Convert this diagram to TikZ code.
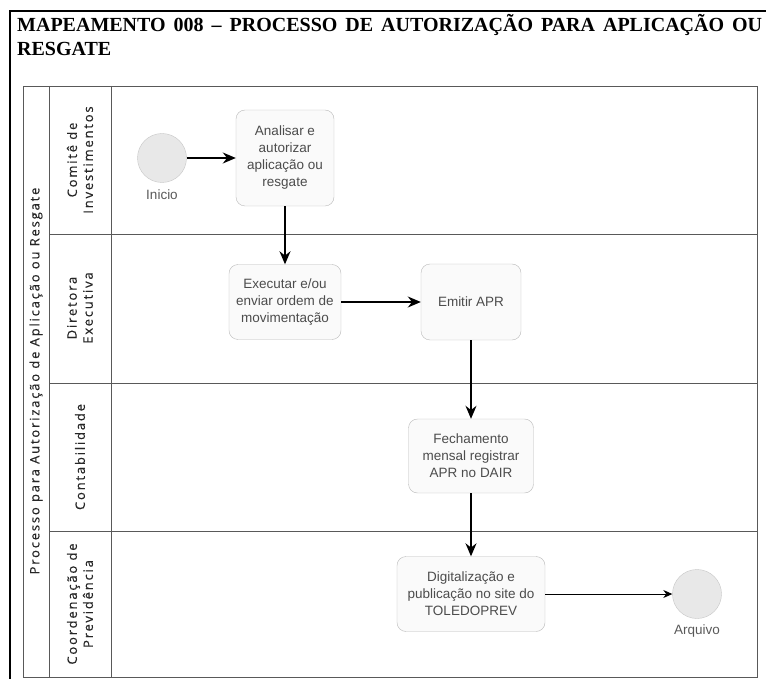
\documentclass[tikz,border=0pt]{standalone}
\usepackage{fontspec}
\setmainfont{Liberation Serif}
\setsansfont{Liberation Sans}
\newfontfamily\lanefont{Open Sans}[LetterSpace=14, FakeBold=0.4]
\usepackage{tikz}
\usetikzlibrary{positioning, arrows, arrows.meta}
\tikzset{
    >={Stealth[length=13pt, width=11pt]}, % arrow heads like the flow chart
    x=1pt, y=-1pt, % one unit is one pixel of the scan
    lane/.style={draw=gray!70!black, line width=0.8pt}, % pool and lane borders
    lanetext/.style={rotate=90, align=center, text=black!85, font=\lanefont\fontsize{13}{16}\selectfont}, % lane names
    task/.style={draw=gray!55, rounded corners=9pt, fill=gray!4, align=center, text=black!70,
        font=\sffamily\fontsize{13.5}{17}\selectfont, inner sep=2pt}, % activity boxes
    event/.style={circle, draw=gray!45, fill=gray!18, minimum size=49pt, inner sep=0pt}, % start and end
    eventtext/.style={text=black!65, font=\sffamily\fontsize{13.5}{15}\selectfont}, % text under events
    flow/.style={->, line width=1.6pt}, % main sequence flow
    thinflow/.style={-{Stealth[length=9pt, width=8pt]}, line width=0.7pt}, % thin sequence flow
}
\begin{document}
\begin{tikzpicture}
    \useasboundingbox (0,0) rectangle (766,679);
    % page frame and heading
    \draw[line width=1.6pt] (10,679) -- (10,11) -- (766,11);
    \node[anchor=base west, inner sep=0pt, font=\bfseries\fontsize{20}{24}\selectfont] (head1) at (17,32)
        {\makebox[745pt][s]{MAPEAMENTO 008 – PROCESSO DE AUTORIZAÇÃO PARA APLICAÇÃO OU}};
    \node[anchor=base west, inner sep=0pt, font=\bfseries\fontsize{20}{24}\selectfont] (head2) at (17,56) {RESGATE};

    % pool and lanes
    \draw[lane] (23,86) rectangle (757,677);
    \draw[lane] (49,86) -- (49,677);
    \draw[lane] (111,86) -- (111,677);
    \foreach \y in {234,383,531}
        \draw[lane] (49,\y) -- (757,\y);
    \node[lanetext] (pool) at (36,381) {Processo para Autorização de Aplicação ou Resgate};
    \node[lanetext] (comite) at (80,160) {Comitê de\\Investimentos};
    \node[lanetext] (diretora) at (80,308) {Diretora\\Executiva};
    \node[lanetext] (contab) at (80,457) {Contabilidade};
    \node[lanetext] (coord) at (80,604) {Coordenação de\\Previdência};

    % flow
    \node[event, label={[eventtext, label distance=3pt]below:Inicio}] (inicio) at (162,158) {};
    \node[task, minimum width=98pt, minimum height=96pt, right of=inicio, node distance=123pt] (analisar)
        {Analisar e\\autorizar\\aplicação ou\\resgate};
    \node[task, minimum width=112pt, minimum height=75pt, below of=analisar, node distance=144pt] (executar)
        {Executar e/ou\\enviar ordem de\\movimentação};
    \node[task, minimum width=100pt, minimum height=76pt, right of=executar, node distance=186pt] (emitir)
        {Emitir APR};
    \node[task, minimum width=125pt, minimum height=74pt, below of=emitir, node distance=154pt] (fechamento)
        {Fechamento\\mensal registrar\\APR no DAIR};
    \node[task, minimum width=148pt, minimum height=75pt, below of=fechamento, node distance=138pt] (digital)
        {Digitalização e\\publicação no site do\\TOLEDOPREV};
    \node[event, label={[eventtext, label distance=2pt]below:Arquivo}, right of=digital, node distance=226pt] (arquivo) {};

    \draw[flow] (inicio) -- (analisar);
    \draw[flow] (analisar) -- (executar);
    \draw[flow] (executar) -- (emitir);
    \draw[flow] (emitir) -- (fechamento);
    \draw[flow] (fechamento) -- (digital);
    \draw[thinflow] (digital) -- (arquivo);
\end{tikzpicture}
\end{document}
